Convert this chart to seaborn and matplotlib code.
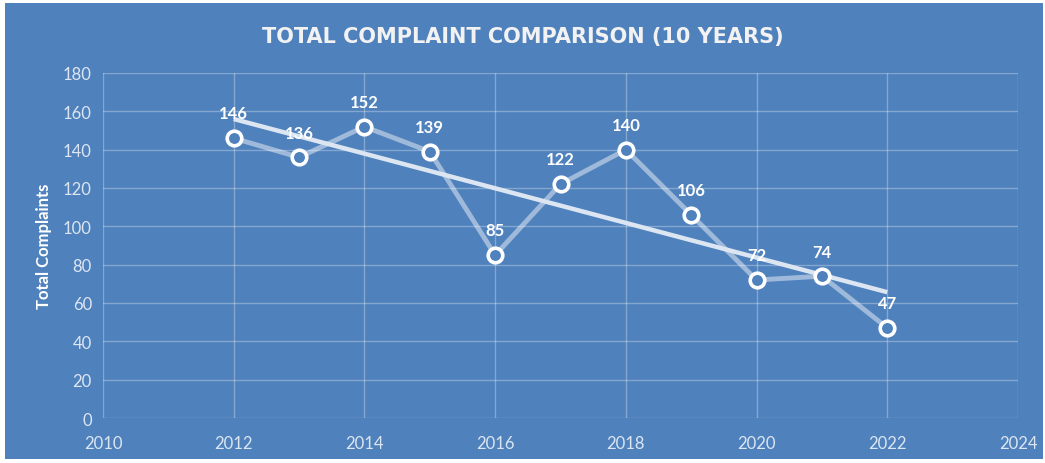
import matplotlib
matplotlib.use("Agg")
import matplotlib.pyplot as plt
import seaborn as sns
import pandas as pd
from matplotlib.patches import Rectangle

years = [2012, 2013, 2014, 2015, 2016, 2017, 2018, 2019, 2020, 2021, 2022]
complaints = [146, 136, 152, 139, 85, 122, 140, 106, 72, 74, 47]
x_ticks = [2010, 2012, 2014, 2016, 2018, 2020, 2022, 2024]
y_ticks = [0, 20, 40, 60, 80, 100, 120, 140, 160, 180]
title = "TOTAL COMPLAINT COMPARISON (10 YEARS)"
ylabel = "Total Complaints"

df = pd.DataFrame({"year": years, "complaints": complaints})

BG = "#4F81BD"
sns.set_style("white")
plt.rcParams["font.family"] = ["Lato", "DejaVu Sans"]

fig = plt.figure(figsize=(10.45, 4.64), dpi=100)
fig.patch.set_facecolor("white")
fig.patches.append(Rectangle((5 / 1045, 4 / 464), 1038 / 1045, 456 / 464,
                             transform=fig.transFigure, facecolor=BG,
                             edgecolor="none", zorder=-10))
ax = fig.add_axes([103 / 1045, 1 - 419 / 464, (1018 - 103) / 1045, (419 - 74) / 464])
ax.set_facecolor(BG)

# trend line
sns.regplot(data=df, x="year", y="complaints", ax=ax, ci=None, truncate=True,
            scatter=False, line_kws=dict(color="#DCE6F2", lw=3.2, zorder=3,
                                         solid_capstyle="butt"))
# data line
sns.lineplot(data=df, x="year", y="complaints", ax=ax, color="white", alpha=0.45,
             lw=3.5, zorder=2)
sns.scatterplot(data=df, x="year", y="complaints", ax=ax, s=110, marker="o",
                facecolor=BG, edgecolor="white", linewidth=2.6, zorder=4)

for x, y in zip(years, complaints):
    ax.annotate(str(y), (x, y), xytext=(0, 12), textcoords="offset points",
                ha="center", va="bottom", color="white", fontsize=12,
                fontweight="bold", zorder=5)

ax.set_xlim(2010, 2024)
ax.set_ylim(0, 180)
ax.set_xticks(x_ticks)
ax.set_yticks(y_ticks)
ax.grid(True, color="white", alpha=0.3, lw=1)
for s in ax.spines.values():
    s.set_visible(False)
ax.tick_params(length=0, colors="#DCE6F2", labelsize=12, pad=8)
ax.tick_params(axis="x", pad=12)
ax.set_xlabel("")
ax.set_ylabel(ylabel, color="white", fontsize=12, fontweight="bold", labelpad=8)

fig.text(0.5, 1 - 37 / 464, title, ha="center", va="center", color="#F2F2F2",
         fontsize=15, fontweight="bold", family=["DejaVu Sans"])

fig.savefig("out.png", dpi=100, facecolor=fig.get_facecolor())
